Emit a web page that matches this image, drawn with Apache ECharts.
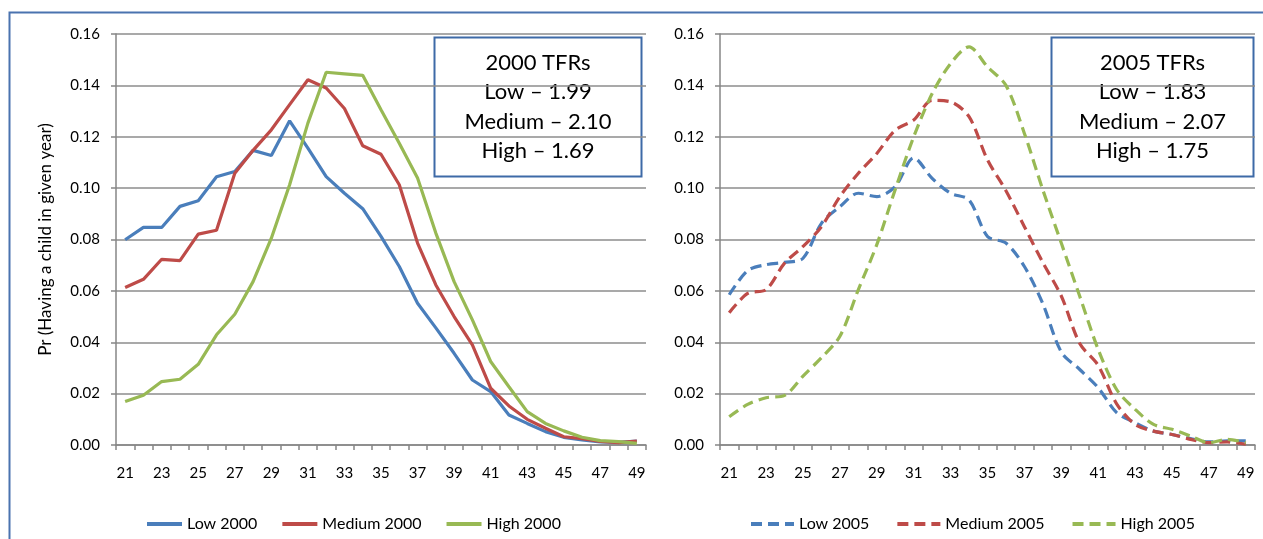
<!DOCTYPE html>
<html>
<head>
<meta charset="utf-8">
<script src="https://cdn.jsdelivr.net/npm/echarts@6/dist/echarts.min.js"></script>
<style>
html,body{margin:0;padding:0;background:#fff;}
#c{width:1263px;height:539px;}
</style>
</head>
<body>
<div id="c"></div>
<script>
var ages = ['21','22','23','24','25','26','27','28','29','30','31','32','33','34','35','36','37','38','39','40','41','42','43','44','45','46','47','48','49'];
var yTicks = [0, 0.02, 0.04, 0.06, 0.08, 0.10, 0.12, 0.14, 0.16];

var low2000 = [0.0799,0.0847,0.0847,0.0929,0.0951,0.1044,0.1065,0.1147,0.1127,0.1262,0.1156,0.1045,0.0980,0.0920,0.0812,0.0695,0.0552,0.0456,0.0357,0.0253,0.0208,0.0117,0.0084,0.0052,0.0030,0.0020,0.0012,0.0010,0.0015];
var med2000 = [0.0613,0.0645,0.0723,0.0718,0.0821,0.0836,0.1058,0.1147,0.1227,0.1325,0.1422,0.1390,0.1310,0.1165,0.1132,0.1013,0.0786,0.0623,0.0500,0.0390,0.0221,0.0152,0.0100,0.0065,0.0032,0.0025,0.0014,0.0009,0.0015];
var high2000 = [0.0169,0.0194,0.0247,0.0256,0.0314,0.0429,0.0509,0.0636,0.0805,0.1013,0.1253,0.1451,0.1445,0.1439,0.1305,0.1175,0.1039,0.0825,0.0636,0.0487,0.0325,0.0227,0.0130,0.0084,0.0055,0.0030,0.0017,0.0013,0.0006];

var low2005 = [0.0585,0.0679,0.0702,0.0711,0.0727,0.0863,0.0928,0.0980,0.0967,0.1006,0.1118,0.1038,0.0980,0.0954,0.0812,0.0786,0.0695,0.0550,0.0362,0.0294,0.0223,0.0126,0.0087,0.0054,0.0041,0.0025,0.0012,0.0016,0.0016];
var med2005 = [0.0515,0.0590,0.0605,0.0708,0.0773,0.0850,0.0967,0.1058,0.1135,0.1226,0.1265,0.1342,0.1336,0.1278,0.1110,0.0990,0.0850,0.0710,0.0580,0.0395,0.0310,0.0160,0.0080,0.0054,0.0041,0.0022,0.0009,0.0012,0.0003];
var high2005 = [0.0110,0.0158,0.0184,0.0193,0.0268,0.0340,0.0423,0.0605,0.0780,0.0995,0.1200,0.1368,0.1485,0.1550,0.1472,0.1400,0.1213,0.0993,0.0786,0.0579,0.0372,0.0216,0.0139,0.0080,0.0061,0.0035,0.0009,0.0022,0.0009];

var box2000 = ['2000 TFRs', 'Low \u2013 1.99', 'Medium \u2013 2.10', 'High \u2013 1.69'];
var box2005 = ['2005 TFRs', 'Low \u2013 1.83', 'Medium \u2013 2.07', 'High \u2013 1.75'];

var FONT = 'Lato, "Open Sans", sans-serif';
var BLUE = '#4A7EBB', RED = '#BE4B48', GREEN = '#98B954';
var AX = '#868686';

function xAxis(gi) {
  return {
    type: 'category', gridIndex: gi, data: ages, boundaryGap: true,
    axisLine: {lineStyle: {color: AX, width: 1.5}},
    axisTick: {show: true, interval: 0, length: 5, lineStyle: {color: AX, width: 1.5}},
    axisLabel: {interval: 1, color: '#000', fontSize: 15, fontFamily: FONT, margin: 21},
    splitLine: {show: false}
  };
}
function yAxis(gi, name) {
  return {
    type: 'value', gridIndex: gi, min: 0, max: 0.16, interval: 0.02,
    name: name, nameLocation: 'middle', nameGap: 62,
    nameTextStyle: {color: '#000', fontSize: 17, fontFamily: FONT},
    axisLine: {show: true, lineStyle: {color: AX, width: 1.5}},
    axisTick: {show: true, length: 5, lineStyle: {color: AX, width: 1.5}},
    axisLabel: {color: '#000', fontSize: 15, fontFamily: FONT, margin: 16,
      formatter: function (v) { return v.toFixed(2); }},
    splitLine: {show: true, lineStyle: {color: '#8C8C8C', width: 1.5}}
  };
}
function line(name, data, color, gi, dashed) {
  return {
    name: name, type: 'line', xAxisIndex: gi, yAxisIndex: gi, data: data,
    symbol: 'none', smooth: dashed ? 0.3 : false, animation: false,
    lineStyle: {color: color, width: 3.2, type: dashed ? [11, 6] : 'solid', cap: 'butt'},
    itemStyle: {color: color}
  };
}
function box(x, w, lines) {
  return {
    type: 'group', z: 100,
    children: [
      {type: 'rect', shape: {x: x, y: 37.5, width: w, height: 139},
       style: {fill: '#fff', stroke: '#3E6AA7', lineWidth: 2}},
      {type: 'text', x: x + w / 2, y: 48,
       style: {text: lines.join('\n'), textAlign: 'center', textVerticalAlign: 'top',
         fontSize: 22, lineHeight: 29.5, fontFamily: FONT, fill: '#000'}}
    ]
  };
}
function legend(left, w, gap, names) {
  return {
    left: left, top: 511, itemWidth: w, itemHeight: 14, itemGap: gap,
    data: names,
    itemStyle: {opacity: 0},
    lineStyle: {width: 4},
    textStyle: {color: '#000', fontSize: 16, fontFamily: FONT}
  };
}

var chart = echarts.init(document.getElementById('c'), null, {renderer: 'canvas'});
chart.setOption({
  backgroundColor: '#fff',
  animation: false,
  grid: [
    {left: 116, right: 1263 - 646, top: 34, bottom: 539 - 445},
    {left: 720, right: 8, top: 34, bottom: 539 - 445}
  ],
  xAxis: [xAxis(0), xAxis(1)],
  yAxis: [yAxis(0, 'Pr (Having a child in given year)'), yAxis(1, '')],
  legend: [
    legend(140, 35, 23, ['Low 2000', 'Medium 2000', 'High 2000']),
    legend(744, 43, 26, ['Low 2005', 'Medium 2005', 'High 2005'])
  ],
  series: [
    line('Low 2000', low2000, BLUE, 0, false),
    line('Medium 2000', med2000, RED, 0, false),
    line('High 2000', high2000, GREEN, 0, false),
    line('Low 2005', low2005, BLUE, 1, true),
    line('Medium 2005', med2005, RED, 1, true),
    line('High 2005', high2005, GREEN, 1, true)
  ],
  graphic: [
    {type: 'rect', z: 0, silent: true, shape: {x: 9.5, y: 12.5, width: 1400, height: 700},
     style: {fill: 'none', stroke: '#4A73AF', lineWidth: 2}},
    box(434.5, 207, box2000),
    box(1051.5, 202, box2005)
  ]
});
</script>
</body>
</html>
